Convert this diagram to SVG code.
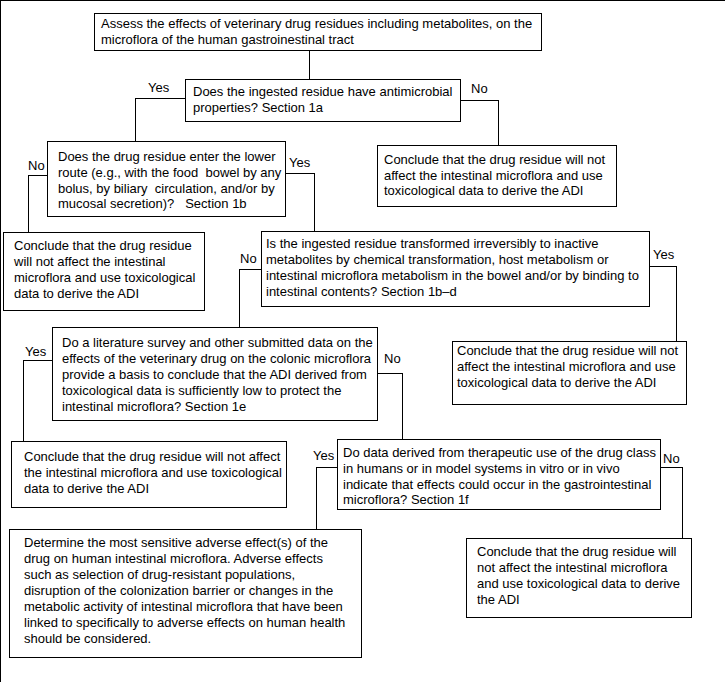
<svg xmlns="http://www.w3.org/2000/svg" width="725" height="682" viewBox="0 0 725 682">
<style>
rect{fill:#fff;stroke:#000;stroke-width:1;shape-rendering:crispEdges}
text{font-family:"Liberation Sans",Arial,sans-serif;font-size:13px;fill:#000;white-space:pre}
.c path{fill:none;stroke:#000;stroke-width:1;shape-rendering:crispEdges}
</style>
<rect width="725" height="682" fill="#fff" stroke="none"/>
<g class="c" id="connectors">
<path d="M309.5 51V79"/>
<path d="M185 98.5H135.5V142"/>
<path d="M460 100.5H498.5V145"/>
<path d="M47 175.5H28.5V232"/>
<path d="M286 173.5H314.5V232"/>
<path d="M261 269.5H239.5V327"/>
<path d="M649 266.5H676.5V341"/>
<path d="M52 360.5H23.5V442"/>
<path d="M378 373.5H402.5V439"/>
<path d="M337 467.5H316.5V529"/>
<path d="M661 467.5H682.5V538"/>
<g id="labels">
<text x="148" y="92">Yes</text>
<text x="471" y="93">No</text>
<text x="28" y="170">No</text>
<text x="289" y="167">Yes</text>
<text x="240" y="263">No</text>
<text x="653" y="259">Yes</text>
<text x="25" y="356">Yes</text>
<text x="384" y="363">No</text>
<text x="313" y="460">Yes</text>
<text x="663" y="463">No</text>
</g>
</g>
<g id="n1"><rect x="94.5" y="13.5" width="447" height="37"/>
<text x="101" y="28">Assess the effects of veterinary drug residues including metabolites, on the</text>
<text x="101" y="44">microflora of the human gastroinestinal tract</text></g>
<g id="n2"><rect x="185.5" y="79.5" width="275" height="42"/>
<text x="193" y="96">Does the ingested residue have antimicrobial</text>
<text x="193" y="112">properties? Section 1a</text></g>
<g id="n3"><rect x="47.5" y="141.5" width="238" height="75"/>
<text x="58" y="161">Does the drug residue enter the lower</text>
<text x="58" y="177">route (e.g., with the food  bowel by any</text>
<text x="58" y="193">bolus, by biliary  circulation, and/or by</text>
<text x="58" y="208">mucosal secretion)?   Section 1b</text></g>
<g id="n4"><rect x="377.5" y="145.5" width="239" height="61"/>
<text x="384" y="164">Conclude that the drug residue will not</text>
<text x="384" y="180">affect the intestinal microflora and use</text>
<text x="384" y="195">toxicological data to derive the ADI</text></g>
<g id="n5"><rect x="3.5" y="232.5" width="201" height="78"/>
<text x="14" y="250">Conclude that the drug residue</text>
<text x="14" y="266">will not affect the intestinal</text>
<text x="14" y="282">microflora and use toxicological</text>
<text x="14" y="298">data to derive the ADI</text></g>
<g id="n6"><rect x="261.5" y="231.5" width="388" height="75"/>
<text x="266" y="248">Is the ingested residue transformed irreversibly to inactive</text>
<text x="266" y="264">metabolites by chemical transformation, host metabolism or</text>
<text x="266" y="280">intestinal microflora metabolism in the bowel and/or by binding to</text>
<text x="266" y="296">intestinal contents? Section 1b–d</text></g>
<g id="n7"><rect x="52.5" y="327.5" width="325" height="93"/>
<text x="62" y="347">Do a literature survey and other submitted data on the</text>
<text x="62" y="363">effects of the veterinary drug on the colonic microflora</text>
<text x="62" y="379">provide a basis to conclude that the ADI derived from</text>
<text x="62" y="395">toxicological data is sufficiently low to protect the</text>
<text x="62" y="411">intestinal microflora? Section 1e</text></g>
<g id="n8"><rect x="452.5" y="341.5" width="234" height="63"/>
<text x="457" y="355">Conclude that the drug residue will not</text>
<text x="457" y="371">affect the intestinal microflora and use</text>
<text x="457" y="387">toxicological data to derive the ADI</text></g>
<g id="n9"><rect x="11.5" y="441.5" width="275" height="66"/>
<text x="24" y="461">Conclude that the drug residue will not affect</text>
<text x="24" y="477">the intestinal microflora and use toxicological</text>
<text x="24" y="493">data to derive the ADI</text></g>
<g id="n10"><rect x="337.5" y="439.5" width="323" height="70"/>
<text x="343" y="457">Do data derived from therapeutic use of the drug class</text>
<text x="343" y="473">in humans or in model systems in vitro or in vivo</text>
<text x="343" y="489">indicate that effects could occur in the gastrointestinal</text>
<text x="343" y="504">microflora? Section 1f</text></g>
<g id="n11"><rect x="9.5" y="529.5" width="352" height="128"/>
<text x="24" y="547">Determine the most sensitive adverse effect(s) of the</text>
<text x="24" y="563">drug on human intestinal microflora. Adverse effects</text>
<text x="24" y="579">such as selection of drug-resistant populations,</text>
<text x="24" y="595">disruption of the colonization barrier or changes in the</text>
<text x="24" y="611">metabolic activity of intestinal microflora that have been</text>
<text x="24" y="627">linked to specifically to adverse effects on human health</text>
<text x="24" y="643">should be considered.</text></g>
<g id="n12"><rect x="466.5" y="538.5" width="225" height="79"/>
<text x="477" y="556">Conclude that the drug residue will</text>
<text x="477" y="572">not affect the intestinal microflora</text>
<text x="477" y="588">and use toxicological data to derive</text>
<text x="477" y="604">the ADI</text></g>
</svg>
